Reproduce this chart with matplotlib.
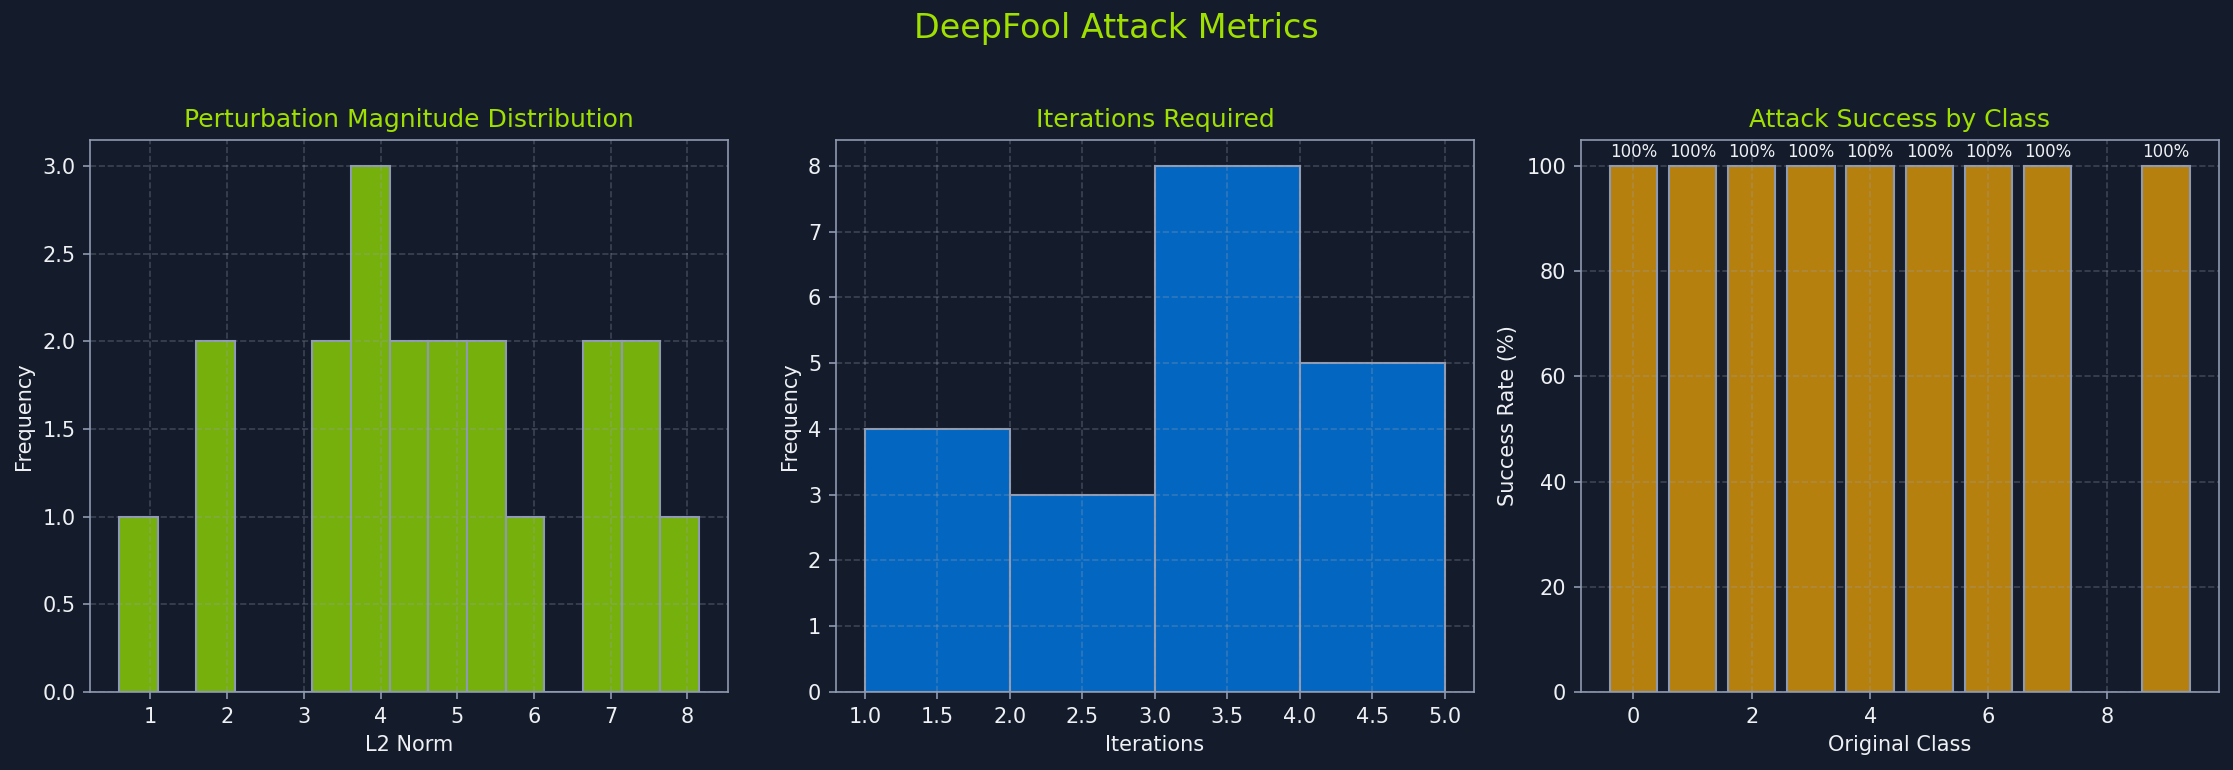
import numpy as np
import matplotlib
matplotlib.use("Agg")
import matplotlib.pyplot as plt

# --- Data ---
L2_MIN, L2_MAX, L2_NBINS = 0.59, 8.15, 15
l2_counts = [1, 0, 2, 0, 0, 2, 3, 2, 2, 2, 1, 0, 2, 2, 1]

iter_edges = [1, 2, 3, 4, 5]
iter_counts = [4, 3, 8, 5]

classes = [0, 1, 2, 3, 4, 5, 6, 7, 9]
success_rate = [100, 100, 100, 100, 100, 100, 100, 100, 100]

# --- Style ---
BG = "#141c2b"
SPINE = "#8e9ab2"
TEXT = "#eef0f4"
TITLE = "#a0e000"
GREEN = "#76b00c"
BLUE = "#0366c0"
GOLD = "#b5800e"

plt.rcParams.update({
    "figure.facecolor": BG,
    "axes.facecolor": BG,
    "axes.edgecolor": SPINE,
    "axes.labelcolor": TEXT,
    "xtick.color": TEXT,
    "ytick.color": TEXT,
    "text.color": TEXT,
})

fig = plt.figure(figsize=(2233 / 150, 770 / 150), dpi=150)
fig.suptitle("DeepFool Attack Metrics", fontsize=16, color=TITLE, y=0.963, va="center")

bottom, height = 0.1013, 0.7175
ax1 = fig.add_axes([0.0403, bottom, 0.2857, height])
ax2 = fig.add_axes([0.3743, bottom, 0.2858, height])
ax3 = fig.add_axes([0.7079, bottom, 0.2857, height])


def style(ax, title, xlabel, ylabel):
    ax.set_title(title, color=TITLE, fontsize=12)
    ax.set_xlabel(xlabel)
    ax.set_ylabel(ylabel)
    ax.grid(True, linestyle="--", color="#9aa3b5", alpha=0.3)
    for s in ax.spines.values():
        s.set_color(SPINE)
    ax.tick_params(axis="both", which="both", color=SPINE, labelcolor=TEXT)


# --- Panel 1: L2 norm histogram ---
l2_edges = np.linspace(L2_MIN, L2_MAX, L2_NBINS + 1)
ax1.hist(l2_edges[:-1], bins=l2_edges, weights=l2_counts, color=GREEN,
         edgecolor=SPINE, linewidth=1)
style(ax1, "Perturbation Magnitude Distribution", "L2 Norm", "Frequency")

# --- Panel 2: iterations histogram ---
ax2.hist(iter_edges[:-1], bins=iter_edges, weights=iter_counts, color=BLUE,
         edgecolor=SPINE, linewidth=1)
style(ax2, "Iterations Required", "Iterations", "Frequency")

# --- Panel 3: success by class ---
bars = ax3.bar(classes, success_rate, color=GOLD, edgecolor=SPINE, linewidth=1)
for b, v in zip(bars, success_rate):
    ax3.text(b.get_x() + b.get_width() / 2, b.get_height() + 1, f"{v:.0f}%",
             ha="center", va="bottom", fontsize=8, color=TEXT)
style(ax3, "Attack Success by Class", "Original Class", "Success Rate (%)")

fig.savefig("out.png", dpi=150, facecolor=BG)
